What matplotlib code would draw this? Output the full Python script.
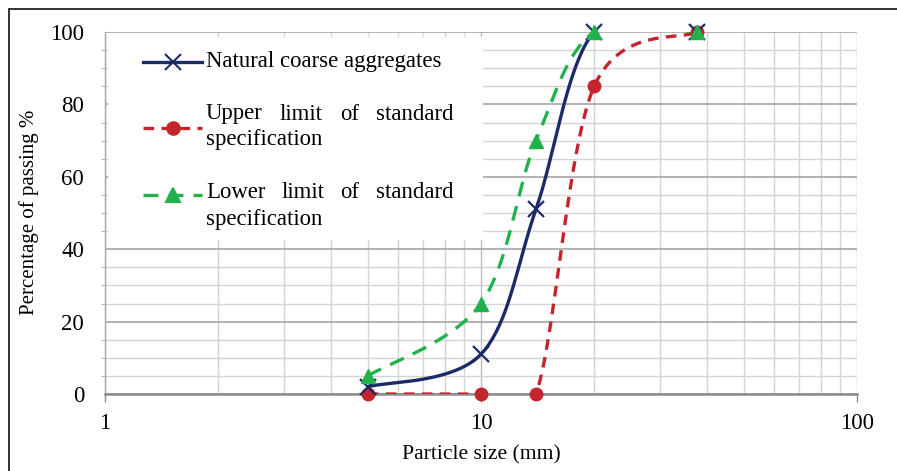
import numpy as np
import matplotlib
matplotlib.use("Agg")
import matplotlib.pyplot as plt
from matplotlib.patches import Rectangle
from matplotlib.ticker import LogLocator, MultipleLocator, NullFormatter, FixedLocator

plt.rcParams['font.family'] = ['Liberation Serif', 'DejaVu Serif']

# ---- data ----
sizes = [5, 10, 14, 20, 37.5]
natural = [2, 11, 51, 100, 100]
upper = [0, 0, 0, 85, 100]
lower = [5, 25, 70, 100, 100]
series_names = ["Natural coarse aggregates",
                "Upper limit of standard specification",
                "Lower limit of standard specification"]
x_ticks = [1, 10, 100]
y_ticks = [0, 20, 40, 60, 80, 100]

W, H = 897, 471
fig = plt.figure(figsize=(W / 100, H / 100), dpi=100)
ax = fig.add_axes([105 / W, 1 - 394 / H, (857 - 105) / W, (394 - 32) / H])
ax.set_xscale('log')
ax.set_xlim(1, 100)
ax.set_ylim(0, 100)

# outer frame
fig.patches.append(Rectangle((9 / W, -0.1), 1.2, 1 - 9 / H + 0.1, transform=fig.transFigure,
                             fill=False, edgecolor='#222222', linewidth=1.3))

# grid
ax.xaxis.set_major_locator(FixedLocator(x_ticks))
ax.xaxis.set_minor_locator(LogLocator(base=10, subs=np.arange(2, 10)))
ax.xaxis.set_minor_formatter(NullFormatter())
ax.set_xticklabels([str(t) for t in x_ticks])
ax.yaxis.set_major_locator(FixedLocator(y_ticks))
ax.yaxis.set_minor_locator(MultipleLocator(5))
ax.grid(which='major', axis='y', color='#a6a6a6', linewidth=1.2)
ax.grid(which='minor', axis='y', color='#d4d4d4', linewidth=1.0)
ax.grid(which='major', axis='x', color='#bdbdbd', linewidth=1.0)
ax.grid(which='minor', axis='x', color='#d4d4d4', linewidth=1.0)
ax.set_axisbelow(True)
for s in ['top', 'right']:
    ax.spines[s].set_visible(False)
ax.spines['left'].set_color('#a6a6a6')
ax.spines['left'].set_linewidth(1.0)
ax.spines['bottom'].set_color('#8c8c8c')
ax.spines['bottom'].set_linewidth(1.8)
ax.tick_params(axis='x', which='major', length=6, color='#8c8c8c', width=1, labelsize=16.5, pad=8)
ax.tick_params(axis='x', which='minor', length=0)
ax.tick_params(axis='y', which='major', length=0, labelsize=16.5, pad=15)
ax.tick_params(axis='y', which='minor', length=3, color='#a6a6a6')
ax.set_xlabel("Particle size (mm)", fontsize=15.6, labelpad=8)

# y label placed in figure pixel coordinates
fig.text(29 / W, 1 - 212 / H, "Percentage of passing %", fontsize=15, rotation=90,
         ha='center', va='center')

# smoothing (Excel-like Catmull-Rom Bezier in display-proportional space)
sx = (857 - 105) / 2.0
sy = (394 - 32) / 100.0


def smooth(xs, ys, n=40):
    P = np.column_stack([np.log10(xs) * sx, np.asarray(ys, float) * sy])
    out = []
    for i in range(len(P) - 1):
        p0 = P[max(i - 1, 0)]
        p1 = P[i]
        p2 = P[i + 1]
        p3 = P[min(i + 2, len(P) - 1)]
        c1 = p1 + (p2 - p0) / 6.0
        c2 = p2 - (p3 - p1) / 6.0
        t = np.linspace(0, 1, n)[:, None]
        seg = ((1 - t) ** 3) * p1 + 3 * ((1 - t) ** 2) * t * c1 + 3 * (1 - t) * t ** 2 * c2 + t ** 3 * p2
        out.append(seg if i == 0 else seg[1:])
    B = np.vstack(out)
    return 10 ** (B[:, 0] / sx), B[:, 1] / sy


navy = '#1c2a68'
red = '#c4242b'
green = '#22b24c'

xs, ys = smooth(sizes, upper)
ax.plot(xs, ys, color=red, lw=2.4, dashes=(3.2, 2.2), zorder=3)
ax.plot(sizes, upper, 'o', color=red, ms=9, zorder=4, clip_on=False)

xs, ys = smooth(sizes, natural)
ax.plot(xs, ys, color=navy, lw=2.4, zorder=3)
ax.plot(sizes, natural, 'x', color=navy, ms=11, mew=1.6, zorder=5, clip_on=False)

xs, ys = smooth(sizes, lower)
ax.plot(xs, ys, color=green, lw=2.4, dashes=(4.5, 3.0), zorder=3)
ax.plot(sizes, lower, '^', color=green, ms=10, zorder=6, clip_on=False)

# legend (manual, in pixel coordinates)
def px(x, y):
    return (x / W, 1 - y / H)

fig.patches.append(Rectangle(px(108, 240), (483 - 108) / W, (240 - 37) / H,
                             transform=fig.transFigure, facecolor='white', edgecolor='none', zorder=2))

def leg_line(y, color, marker, dashes, ms, mew=1.5):
    x0, _ = px(143, y)
    x1, yy = px(202, y)
    ln = plt.Line2D([x0, x1], [yy, yy], transform=fig.transFigure, color=color, lw=2.4, zorder=3)
    if dashes:
        ln.set_dashes(dashes)
    fig.lines.append(ln)
    mk = plt.Line2D([(x0 + x1) / 2], [yy], transform=fig.transFigure, color=color, marker=marker,
                    ms=ms, mew=mew, linestyle='none', zorder=4)
    fig.lines.append(mk)

leg_line(62, navy, 'x', None, 11)
leg_line(128, red, 'o', (3.2, 2.2), 9)
leg_line(195, green, '^', (4.5, 3.0), 10)

fs = 16.4
fig.text(*px(206, 61), "Natural coarse aggregates", fontsize=fs, va='center', ha='left', zorder=5)

def justified(words, xs_, y):
    for i, (w_, x_) in enumerate(zip(words, xs_)):
        fig.text(*px(x_, y), w_, fontsize=fs, va='center', ha='left', zorder=5)

justified(["Upper", "limit", "of", "standard"], [206, 280, 340, 376], 114)
fig.text(*px(206, 140), "specification", fontsize=fs, va='center', ha='left', zorder=5)
justified(["Lower", "limit", "of", "standard"], [206, 282, 340, 376], 193)
fig.text(*px(206, 220), "specification", fontsize=fs, va='center', ha='left', zorder=5)

fig.savefig("out.png", dpi=100)
